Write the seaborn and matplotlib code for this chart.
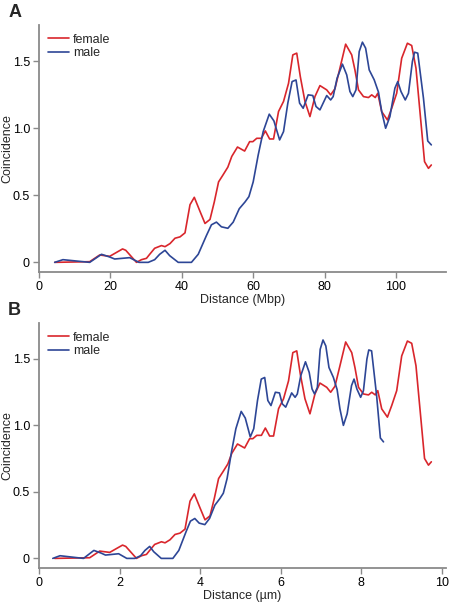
import pandas as pd
import matplotlib.pyplot as plt
import seaborn as sns

# coincidence vs genomic distance (Mbp)
female_mbp = [4.4, 14.2, 17.0, 19.8, 23.4, 24.3, 27.3, 28.7, 30.1, 31.0, 32.4, 34.3, 35.3, 36.7,
              38.1, 39.5, 40.9, 42.3, 43.5, 45.1, 46.5, 47.9, 49.1, 50.3, 51.5, 52.9, 54.0, 55.6,
              57.6, 59.0, 59.9, 61.0, 62.3, 63.4, 64.6, 65.7, 67.1, 68.5, 69.9, 71.1, 72.2, 73.2,
              74.5, 75.9, 77.3, 78.7, 80.6, 81.7, 82.9, 84.3, 85.9, 87.6, 88.5, 89.5, 90.9, 92.3,
              93.2, 94.2, 94.9, 96.0, 97.6, 98.8, 100.2, 101.6, 103.2, 104.4, 105.6, 106.8, 108.0,
              109.1, 109.9]
female_coinc = [0.0, 0.005, 0.055, 0.045, 0.10, 0.09, 0.0, 0.02, 0.03, 0.06, 0.105, 0.125, 0.117, 0.14,
                0.18, 0.19, 0.22, 0.43, 0.485, 0.38, 0.29, 0.32, 0.45, 0.60, 0.65, 0.71, 0.79, 0.86,
                0.83, 0.90, 0.90, 0.925, 0.925, 0.98, 0.92, 0.92, 1.125, 1.20, 1.335, 1.547, 1.56, 1.385,
                1.20, 1.087, 1.236, 1.318, 1.286, 1.249, 1.294, 1.448, 1.627, 1.547, 1.435, 1.286, 1.236, 1.229,
                1.249, 1.229, 1.261, 1.124, 1.062, 1.149, 1.261, 1.522, 1.634, 1.617, 1.448, 1.10, 0.751,
                0.701, 0.726]

male_mbp = [4.4, 6.7, 14.2, 17.5, 19.8, 21.2, 25.4, 28.0, 30.6, 32.4, 33.8, 35.3, 36.6, 39.0,
            42.7, 44.6, 46.9, 48.3, 49.7, 51.1, 52.9, 54.4, 56.1, 57.7, 58.8, 60.0, 61.4, 62.8,
            64.5, 65.8, 67.4, 68.5, 69.7, 70.9, 72.0, 73.0, 74.0, 75.4, 76.7, 77.6, 78.7, 80.6,
            81.7, 82.4, 83.5, 85.0, 86.2, 87.1, 87.9, 88.8, 89.7, 90.6, 91.5, 92.5, 93.9, 95.1,
            96.0, 97.1, 98.3, 99.7, 100.5, 101.4, 102.6, 103.5, 104.6, 105.2, 106.1, 107.7, 108.9,
            109.9]
male_coinc = [0.0, 0.02, 0.0, 0.06, 0.04, 0.025, 0.035, 0.0, 0.0, 0.02, 0.06, 0.09, 0.05, 0.0,
              0.0, 0.06, 0.20, 0.28, 0.30, 0.265, 0.254, 0.30, 0.40, 0.45, 0.49, 0.60, 0.80, 0.975,
              1.105, 1.055, 0.913, 0.975, 1.187, 1.348, 1.36, 1.187, 1.149, 1.249, 1.244, 1.162, 1.137, 1.244,
              1.211, 1.236, 1.373, 1.478, 1.398, 1.274, 1.236, 1.286, 1.572, 1.642, 1.597, 1.435, 1.361, 1.269,
              1.124, 1.0, 1.087, 1.299, 1.348, 1.274, 1.211, 1.261, 1.498, 1.567, 1.56, 1.224, 0.905,
              0.876]

# physical scale (um per Mbp) for each sex
um_per_mbp = {"female": 0.0886, "male": 0.0778}

df = pd.concat([
    pd.DataFrame({"mbp": female_mbp, "coinc": female_coinc, "sex": "female"}),
    pd.DataFrame({"mbp": male_mbp, "coinc": male_coinc, "sex": "male"}),
], ignore_index=True)
df["um"] = df["mbp"] * df["sex"].map(um_per_mbp)

sns.set_style("ticks")
plt.rcParams["font.family"] = ["Liberation Sans", "DejaVu Sans"]
grey = "#8a8a8a"
pal = {"female": "#d9262c", "male": "#2d4696"}

fig = plt.figure(figsize=(4.5, 6.05), dpi=100)
axA = fig.add_axes([0.0867, 0.5504, 0.9043, 0.4083])
axB = fig.add_axes([0.0867, 0.0612, 0.9043, 0.4050])

panels = [(axA, "mbp", "Distance (Mbp)", 114, range(0, 101, 20), "A"),
          (axB, "um", "Distance (\u00b5m)", 10.1, range(0, 11, 2), "B")]

for ax, xcol, xlab, xmax, xt, letter in panels:
    sns.lineplot(data=df, x=xcol, y="coinc", hue="sex", palette=pal, estimator=None,
                 sort=False, linewidth=1.2, ax=ax)
    ax.set_xlim(0, xmax)
    ax.set_ylim(-0.072, 1.77)
    ax.set_xticks(list(xt))
    ax.set_yticks([0, 0.5, 1.0, 1.5])
    ax.set_yticklabels(["0", "0.5", "1.0", "1.5"])
    ax.set_xlabel(xlab, fontsize=9, labelpad=1)
    ax.set_ylabel("Coincidence", fontsize=9)
    ax.yaxis.set_label_coords(-0.063, 0.5)
    sns.despine(ax=ax)
    for s in ["left", "bottom"]:
        ax.spines[s].set_color(grey)
        ax.spines[s].set_linewidth(1.3)
    ax.tick_params(colors=grey, labelcolor="black", labelsize=9, length=4.5, width=1, pad=2)
    ax.legend(loc="upper left", bbox_to_anchor=(0.0, 1.0), frameon=False, fontsize=9,
              handlelength=1.7, handletextpad=0.3, labelspacing=0.1, borderaxespad=0.3)
    fig.text(0.018, ax.get_position().y1 + 0.02, letter, fontsize=13, fontweight="bold",
             va="center", ha="left")

fig.savefig("out.png", dpi=100)
plt.close()
